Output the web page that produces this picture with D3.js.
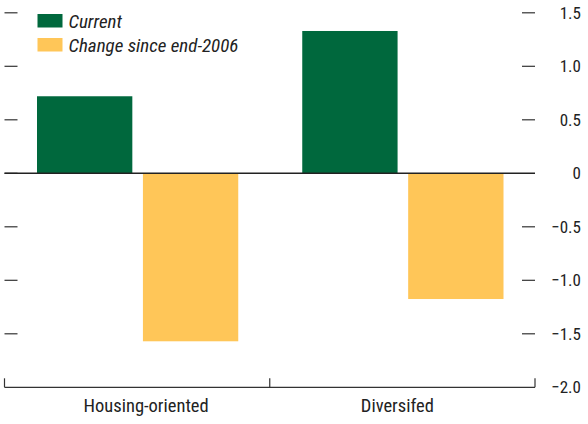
<!DOCTYPE html>
<html>
<head>
<meta charset="utf-8">
<script src="https://cdn.jsdelivr.net/npm/d3@7"></script>
<style>
    body { margin: 0; background: #fff; }
    text { font-family: "Liberation Sans Narrow", "Roboto Condensed", Roboto, sans-serif; }
</style>
</head>
<body>
<svg id="chart"></svg>
<script>
// chart data
var categories = ["Housing-oriented", "Diversifed"];
var series_names = ["Current", "Change since end-2006"];
var current_vals = [0.72, 1.33];
var change_vals = [-1.57, -1.175];
var y_ticks = [1.5, 1.0, 0.5, 0, -0.5, -1.0, -1.5, -2.0];
var y_tick_labels = ["1.5", "1.0", "0.5", "0", "\u22120.5", "\u22121.0", "\u22121.5", "\u22122.0"];

function plotChart(svgWidth, svgHeight, tag_id) {

    /*
        MARGINS
    */
    var margin = {top: 12.8, bottom: 36.7, left: 4.5, right: 53};
    var width = svgWidth - margin.left - margin.right;
    var height = svgHeight - margin.top - margin.bottom;

    var colors = ["#00683D", "#FFC658"];

    // category labels are not quite centred in the original
    var label_dx = [9, -5];

    /*
        SCALES
    */
    var xScale = d3.scaleBand()
        .domain(categories)
        .range([0, width]);

    var xInner = d3.scaleBand()
        .domain(series_names)
        .range([32.5, xScale.bandwidth() - 31.5])
        .paddingInner(0.1);

    var yScale = d3.scaleLinear()
        .domain([-2, 1.5])
        .range([height, 0]);

    var svg = d3.select(tag_id)
        .attr("width", svgWidth)
        .attr("height", svgHeight);

    var g = svg.append("g")
        .attr("transform", "translate(" + margin.left + "," + margin.top + ")");

    /*
        BARS
    */
    var rows = categories.map(function(c, i) {
        return [
            {cat: c, name: series_names[0], value: current_vals[i]},
            {cat: c, name: series_names[1], value: change_vals[i]}
        ];
    });

    g.selectAll(".grp")
        .data(rows)
        .enter().append("g")
        .attr("transform", function(d) { return "translate(" + xScale(d[0].cat) + ",0)"; })
        .selectAll("rect")
        .data(function(d) { return d; })
        .enter().append("rect")
        .attr("x", function(d) { return xInner(d.name); })
        .attr("width", xInner.bandwidth())
        .attr("y", function(d) { return yScale(Math.max(0, d.value)); })
        .attr("height", function(d) { return Math.abs(yScale(d.value) - yScale(0)); })
        .attr("fill", function(d, i) { return colors[i]; });

    /*
        Y AXIS (right labels + short ticks on both sides)
    */
    g.selectAll(".ytick-r")
        .data(y_ticks.filter(function(v) { return v > -2 && v != 0; }))
        .enter().append("line")
        .attr("x1", width - 13).attr("x2", width)
        .attr("y1", function(d) { return yScale(d); })
        .attr("y2", function(d) { return yScale(d); })
        .attr("stroke", "#333").attr("stroke-width", 1.2);

    g.selectAll(".ytick-l")
        .data(y_ticks.filter(function(v) { return v > -2; }))
        .enter().append("line")
        .attr("x1", 0).attr("x2", 13)
        .attr("y1", function(d) { return yScale(d); })
        .attr("y2", function(d) { return yScale(d); })
        .attr("stroke", "#333").attr("stroke-width", 1.2);

    g.selectAll(".ylab")
        .data(y_ticks)
        .enter().append("text")
        .attr("x", width + 46)
        .attr("y", function(d) { return yScale(d); })
        .attr("dy", "0.36em")
        .attr("text-anchor", "end")
        .attr("font-size", 17)
        .attr("fill", "#222")
        .text(function(d, i) { return y_tick_labels[i]; });

    // zero line
    g.append("line")
        .attr("x1", 0).attr("x2", width)
        .attr("y1", yScale(0)).attr("y2", yScale(0))
        .attr("stroke", "#222").attr("stroke-width", 1.6);

    /*
        X AXIS
    */
    var x_axis = d3.axisBottom(xScale)
        .tickSize(0)
        .tickPadding(12);

    var xa = g.append("g")
        .attr("transform", "translate(0," + height + ")")
        .call(x_axis);
    xa.select(".domain").remove();
    xa.selectAll("text")
        .attr("font-size", 18.5)
        .attr("fill", "#222")
        .attr("dx", function(d, i) { return label_dx[i]; });

    // baseline with up-ticks at the band edges
    var edges = [0, xScale.bandwidth(), width];
    g.append("line")
        .attr("x1", 0).attr("x2", width)
        .attr("y1", height).attr("y2", height)
        .attr("stroke", "#333").attr("stroke-width", 1.2);
    g.selectAll(".xedge")
        .data(edges)
        .enter().append("line")
        .attr("x1", function(d) { return d; }).attr("x2", function(d) { return d; })
        .attr("y1", height - 9).attr("y2", height)
        .attr("stroke", "#333").attr("stroke-width", 1.2);

    /*
        LEGEND
    */
    var leg = svg.append("g")
        .attr("transform", "translate(37.5,14)");

    series_names.forEach(function(name, i) {
        leg.append("rect")
            .attr("x", 0).attr("y", i * 24)
            .attr("width", 25).attr("height", 13.5)
            .attr("fill", colors[i]);
        leg.append("text")
            .attr("x", 31).attr("y", i * 24 + 14)
            .attr("font-size", 19)
            .attr("font-style", "italic")
            .attr("fill", "#222")
            .text(name);
    });
}

plotChart(588, 424, "#chart");
</script>
</body>
</html>
